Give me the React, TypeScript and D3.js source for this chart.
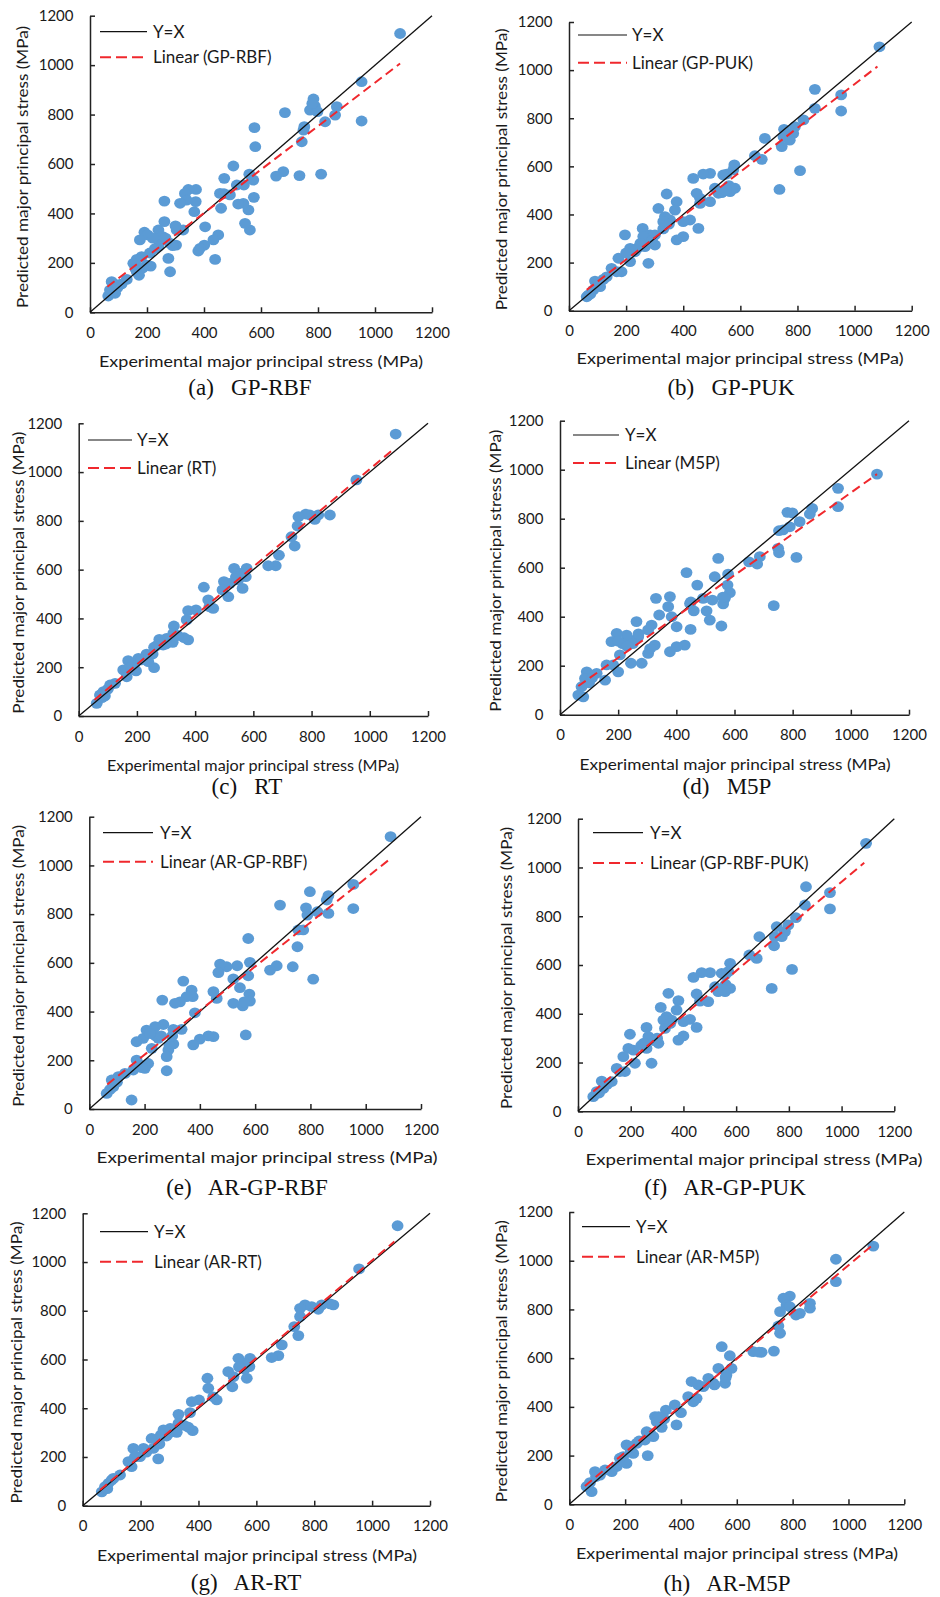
import * as d3 from 'd3';
import React, { useEffect, useRef } from 'react';

// axis ticks shared by all eight panels (MPa)
const ticks = [0, 200, 400, 600, 800, 1000, 1200];
const xTitle = 'Experimental major principal stress (MPa)';
const yTitle = 'Predicted major principal stress (MPa)';

const tags = ['(a)', '(b)', '(c)', '(d)', '(e)', '(f)', '(g)', '(h)'];
const models = ['GP-RBF', 'GP-PUK', 'RT', 'M5P', 'AR-GP-RBF', 'AR-GP-PUK', 'AR-RT', 'AR-M5P'];
const legendNames = ['GP-RBF', 'GP-PUK', 'RT', 'M5P', 'AR-GP-RBF', 'GP-RBF-PUK', 'AR-RT', 'AR-M5P'];

// linear trend lines
const trendSlope = [0.879, 0.912, 1.0, 0.842, 0.905, 0.913, 1.003, 0.96];
const trendIntercept = [50, 30, 12, 64, 42, 28, 4, 21];
const trendStart = [61, 62, 54, 63, 65, 58, 60, 56];
const trendEnd = [1088, 1080, 1083, 1090, 1090, 1086, 1077, 1091];

// [experimental, predicted]
const gpRbf = [[1088,1128],[953,933],[953,774],[866,832],[860,798],[825,771],[811,559],[784,863],[789,834],[772,818],[798,812],[684,808],[752,751],[749,737],[743,690],[735,553],[678,569],[653,551],[577,747],[580,670],[575,465],[573,535],[559,559],[561,333],[544,360],[556,414],[538,441],[520,438],[503,592],[515,515],[491,475],[471,542],[456,481],[460,421],[450,313],[433,293],[439,214],[401,272],[386,259],[380,248],[404,346],[372,497],[371,448],[366,407],[345,497],[333,481],[339,454],[316,441],[304,333],[302,272],[327,333],[261,450],[261,367],[240,333],[255,306],[275,218],[281,164],[240,266],[228,258],[191,324],[202,313],[175,293],[213,187],[199,191],[181,225],[164,214],[152,198],[164,164],[172,150],[129,133],[111,115],[82,117],[76,124],[70,90],[64,66],[88,77],[96,100],[280,280],[290,270],[210,240],[250,290],[265,300],[300,350],[220,300],[185,180],[160,175],[100,110],[75,80],[780,845],[470,480],[540,515]];
const gpPuk = [[1087,1097],[861,920],[953,897],[953,830],[861,841],[821,793],[809,582],[791,765],[785,737],[773,709],[753,754],[751,723],[745,682],[737,504],[686,716],[675,629],[651,644],[579,606],[575,585],[581,509],[564,495],[552,568],[540,564],[511,509],[523,488],[535,491],[494,571],[470,568],[435,550],[494,453],[459,467],[447,488],[459,446],[453,342],[424,377],[400,370],[400,308],[377,294],[377,453],[371,418],[354,377],[342,485],[336,391],[330,370],[313,425],[301,315],[301,273],[284,315],[258,342],[260,308],[266,266],[278,197],[231,245],[214,259],[214,204],[196,315],[173,218],[184,162],[167,162],[149,176],[132,141],[91,123],[109,100],[85,86],[68,65],[62,58],[240,260],[250,280],[330,340],[560,520],[570,505],[120,130],[100,110],[75,70],[200,240],[290,290],[350,360],[550,500]];
const rt = [[1089,1156],[954,968],[863,824],[823,824],[811,806],[794,824],[780,828],[755,817],[752,779],[731,735],[742,697],[688,659],[677,616],[651,616],[577,605],[574,571],[563,523],[554,585],[548,558],[534,605],[519,544],[514,489],[499,551],[494,517],[462,441],[449,448],[445,476],[430,528],[403,435],[376,432],[371,394],[376,312],[362,321],[327,369],[325,339],[323,302],[302,318],[290,291],[277,314],[259,282],[254,254],[259,198],[233,254],[239,223],[205,236],[193,216],[197,185],[170,227],[153,189],[165,161],[125,134],[108,127],[85,100],[73,86],[90,82],[62,52],[280,300],[300,295],[215,230],[100,110],[80,75],[270,290],[340,330],[540,570],[180,200]];
const m5p = [[1090,982],[956,924],[956,849],[867,842],[859,819],[824,788],[813,642],[782,826],[799,824],[790,767],[767,754],[753,751],[750,679],[753,661],[735,445],[687,645],[678,615],[650,624],[578,574],[576,529],[584,498],[567,475],[561,452],[555,362],[544,638],[532,563],[524,468],[515,386],[504,424],[492,475],[472,529],[460,424],[449,348],[435,580],[447,454],[429,284],[401,278],[378,257],[401,359],[378,482],[372,441],[384,400],[341,407],[330,475],[315,366],[303,346],[303,250],[326,284],[263,380],[269,318],[240,305],[229,325],[244,210],[281,210],[195,332],[177,298],[206,244],[200,175],[183,203],[160,203],[155,141],[126,169],[92,175],[86,148],[74,114],[63,80],[80,73],[250,290],[270,330],[215,290],[310,270],[200,300],[230,280],[100,130],[110,150],[560,480],[450,460]];
const arGpRbf = [[1090,1118],[955,922],[955,823],[865,876],[859,858],[865,803],[825,810],[810,533],[798,892],[784,826],[789,796],[774,735],[756,735],[753,666],[736,584],[690,837],[678,588],[654,570],[575,700],[581,602],[575,547],[579,472],[581,443],[566,304],[545,498],[555,423],[535,588],[521,534],[521,434],[497,584],[473,595],[467,560],[461,454],[449,482],[449,297],[431,300],[400,287],[376,263],[382,395],[370,488],[374,461],[352,461],[340,525],[328,440],[310,434],[334,327],[304,327],[304,267],[286,242],[280,215],[280,157],[264,447],[268,347],[238,338],[250,290],[226,249],[207,324],[195,290],[171,276],[213,187],[201,167],[183,181],[171,201],[159,160],[153,37],[129,146],[105,133],[81,119],[87,92],[63,64],[240,300],[290,260],[220,310],[260,300],[190,170],[100,110],[75,80],[300,300],[560,440]];
const arGpPuk = [[1093,1099],[865,921],[956,897],[956,830],[861,846],[827,794],[812,582],[798,764],[785,737],[773,716],[754,757],[747,716],[744,679],[735,504],[688,716],[678,627],[650,641],[577,607],[570,573],[577,504],[558,559],[545,566],[520,511],[532,491],[558,491],[501,569],[469,569],[438,549],[494,450],[463,452],[450,481],[450,344],[425,377],[400,368],[400,309],[381,292],[381,454],[374,415],[355,374],[343,484],[336,388],[324,374],[314,426],[305,279],[260,344],[267,306],[260,258],[279,197],[216,197],[210,251],[191,258],[197,316],[172,224],[178,163],[159,163],[147,176],[128,122],[90,124],[96,94],[71,81],[58,60],[240,270],[300,300],[330,340],[560,520],[110,110],[80,75],[250,280],[290,290],[350,360],[550,500]];
const arRt = [[1088,1149],[955,972],[866,824],[855,828],[826,824],[814,806],[791,817],[768,824],[751,810],[751,776],[731,735],[745,698],[688,660],[676,616],[653,608],[578,605],[576,571],[567,523],[561,584],[538,605],[521,530],[517,488],[503,550],[463,434],[451,447],[434,482],[431,523],[402,434],[377,427],[371,382],[380,308],[365,322],[331,375],[331,338],[325,301],[302,317],[290,286],[279,311],[265,276],[265,253],[261,192],[238,276],[244,235],[210,235],[198,201],[175,235],[158,181],[169,160],[129,126],[106,112],[89,92],[77,78],[66,57],[300,300],[220,220],[560,560],[100,105],[85,70],[270,290],[540,570],[180,200],[350,330]];
const arM5p = [[1089,1060],[955,1006],[955,914],[862,825],[862,805],[826,784],[812,777],[790,855],[767,846],[778,818],[790,811],[755,791],[749,732],[755,702],[733,629],[689,624],[659,627],[575,610],[581,558],[563,531],[558,497],[546,647],[534,558],[516,497],[498,517],[480,483],[462,490],[438,504],[456,435],[444,421],[426,442],[400,376],[384,326],[378,408],[346,387],[331,316],[307,360],[301,278],[313,339],[277,298],[271,264],[241,250],[217,237],[229,209],[281,200],[205,244],[193,196],[205,168],[181,189],[170,155],[152,134],[128,141],[92,134],[96,114],[74,89],[80,52],[62,73],[250,260],[340,350],[520,490],[320,360],[290,290],[220,220],[110,120],[680,625],[560,520]];

const series = [gpRbf, gpPuk, rt, m5p, arGpRbf, arGpPuk, arRt, arM5p];

// where each small chart sits on the page
const frames = [
  { x0: 90, x1: 432, y0: 15.7, y1: 312.3, yt: 22.7, xtx: 261, xty: 361, xtw: 324, cx: 250, cy: 387, l0: 100, l1: 147, lt: 153, ly1: 31.7, ly2: 57.3 },
  { x0: 569, x1: 911.7, y0: 22, y1: 310.7, yt: 501.7, xtx: 740, xty: 358, xtw: 327, cx: 731, cy: 387, l0: 578, l1: 627, lt: 632, ly1: 35, ly2: 62.7 },
  { x0: 78.7, x1: 428, y0: 423.3, y1: 716, yt: 18.3, xtx: 253, xty: 765, xtw: 292, cx: 247, cy: 786, l0: 88, l1: 132, lt: 137, ly1: 440, ly2: 468 },
  { x0: 560, x1: 909, y0: 420.7, y1: 714.7, yt: 495, xtx: 735, xty: 764, xtw: 311, cx: 727, cy: 786, l0: 573, l1: 619, lt: 625, ly1: 435, ly2: 463 },
  { x0: 89.3, x1: 421, y0: 816.7, y1: 1109, yt: 18.3, xtx: 267, xty: 1157.7, xtw: 341, cx: 247, cy: 1187, l0: 103, l1: 153, lt: 160, ly1: 832.7, ly2: 861.7 },
  { x0: 578, x1: 894.3, y0: 818.7, y1: 1111.3, yt: 506.7, xtx: 754, xty: 1159, xtw: 337, cx: 725, cy: 1187, l0: 593, l1: 643, lt: 650, ly1: 832.7, ly2: 863 },
  { x0: 82.7, x1: 430, y0: 1213.3, y1: 1505.7, yt: 16.7, xtx: 257, xty: 1555, xtw: 320, cx: 246, cy: 1582, l0: 100, l1: 148, lt: 154, ly1: 1231.7, ly2: 1261.7 },
  { x0: 569.3, x1: 904.3, y0: 1212, y1: 1504.3, yt: 501.7, xtx: 737, xty: 1553, xtw: 322, cx: 727, cy: 1583, l0: 582, l1: 630, lt: 636, ly1: 1226.7, ly2: 1256.7 },
];

const width = 940;
const height = 1597;

function App() {
  const ref = useRef<SVGSVGElement>(null);

  useEffect(() => {
    const svg = d3.select(ref.current);
    svg.selectAll('*').remove();

    series.forEach((data, i) => {
      const f = frames[i];
      const x = d3.scaleLinear().domain([0, 1200]).range([f.x0, f.x1]);
      const y = d3.scaleLinear().domain([0, 1200]).range([f.y1, f.y0]);
      const g = svg.append('g').attr('font-family', 'Lato, sans-serif');

      const xAxis = g.append('g')
        .attr('transform', `translate(0,${f.y1})`)
        .call(d3.axisBottom(x).tickValues(ticks).tickFormat(d3.format('d')).tickSizeInner(-5).tickSizeOuter(0).tickPadding(15));
      const yAxis = g.append('g')
        .attr('transform', `translate(${f.x0},0)`)
        .call(d3.axisLeft(y).tickValues(ticks).tickFormat(d3.format('d')).tickSizeInner(-5).tickSizeOuter(0).tickPadding(16.5));
      [xAxis, yAxis].forEach(a => {
        a.attr('font-family', 'Lato, sans-serif').attr('font-size', 15);
        a.select('.domain').attr('stroke', '#222').attr('stroke-width', 1.5);
        a.selectAll('.tick line').attr('stroke', '#222').attr('stroke-width', 1.5);
        a.selectAll('.tick text').attr('fill', '#1a1a1a');
      });

      g.selectAll('ellipse')
        .data(data)
        .enter().append('ellipse')
        .attr('cx', d => x(d[0]))
        .attr('cy', d => y(d[1]))
        .attr('rx', 5.9)
        .attr('ry', 5.4)
        .attr('fill', '#5B9BD5');

      const line = d3.line<number[]>().x(d => x(d[0])).y(d => y(d[1]));
      g.append('path')
        .attr('d', line([[0, 0], [1200, 1200]]))
        .attr('stroke', '#111').attr('stroke-width', 1.3).attr('fill', 'none');

      const m = trendSlope[i];
      const b = trendIntercept[i];
      g.append('path')
        .attr('d', line([[trendStart[i], m * trendStart[i] + b], [trendEnd[i], m * trendEnd[i] + b]]))
        .attr('stroke', '#F0282D').attr('stroke-width', 2).attr('stroke-dasharray', '9,5').attr('fill', 'none');

      // legend
      g.append('line').attr('x1', f.l0).attr('x2', f.l1).attr('y1', f.ly1).attr('y2', f.ly1)
        .attr('stroke', '#111').attr('stroke-width', 1.2);
      g.append('line').attr('x1', f.l0).attr('x2', f.l1).attr('y1', f.ly2).attr('y2', f.ly2)
        .attr('stroke', '#F0282D').attr('stroke-width', 2).attr('stroke-dasharray', '11,5');
      g.append('text').attr('x', f.lt).attr('y', f.ly1).attr('dy', '0.35em')
        .attr('font-size', 17).attr('fill', '#1a1a1a').text('Y=X');
      g.append('text').attr('x', f.lt).attr('y', f.ly2).attr('dy', '0.35em')
        .attr('font-size', 17).attr('fill', '#1a1a1a').text(`Linear (${legendNames[i]})`);

      // axis titles
      g.append('text').attr('x', f.xtx).attr('y', f.xty).attr('dy', '0.35em')
        .attr('text-anchor', 'middle').attr('font-size', 16).attr('fill', '#1a1a1a')
        .attr('textLength', f.xtw).attr('lengthAdjust', 'spacingAndGlyphs')
        .text(xTitle);
      g.append('text')
        .attr('transform', `translate(${f.yt},${(f.y0 + f.y1) / 2 + 3}) rotate(-90)`)
        .attr('dy', '0.35em')
        .attr('text-anchor', 'middle').attr('font-size', 16).attr('fill', '#1a1a1a')
        .attr('textLength', 282).attr('lengthAdjust', 'spacingAndGlyphs')
        .text(yTitle);

      // caption
      g.append('text').attr('x', f.cx).attr('y', f.cy + 8)
        .attr('text-anchor', 'middle')
        .attr('font-family', '"Liberation Serif", "Times New Roman", serif')
        .attr('font-size', 23).attr('fill', '#111')
        .style('white-space', 'pre')
        .text(`${tags[i]}   ${models[i]}`);
    });
  }, []);

  return (
    <svg
      ref={ref}
      width={width}
      height={height}
      style={{ position: 'absolute', left: 0, top: 0, background: '#fff' }}
    />
  );
}

export default App;
